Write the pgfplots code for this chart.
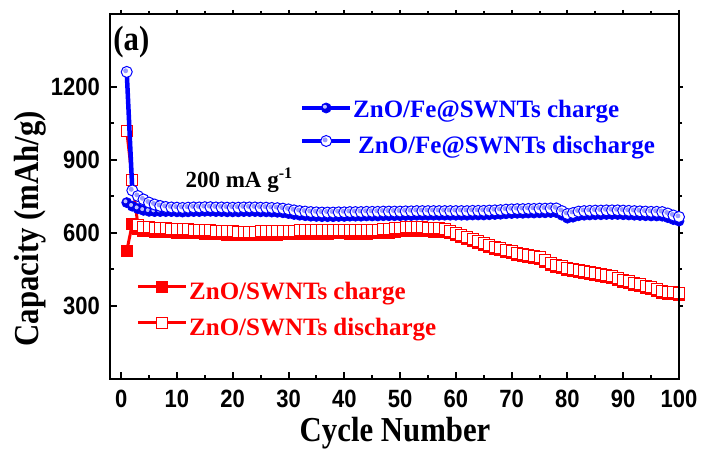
\documentclass[border=0pt]{standalone}
\usepackage{fontspec}
\setmainfont{Liberation Serif}
\newfontfamily\tickfont{Liberation Sans}[FakeStretch=0.88]
\newfontfamily\labfont{Liberation Serif}[FakeStretch=0.88]
\usepackage{pgfplots}
\pgfplotsset{compat=1.18}
\usepackage{pgfplotstable}

\pgfdeclareplotmark{circdot}{%
  \pgfpathcircle{\pgfpointorigin}{\pgfplotmarksize}%
  \pgfsetfillcolor{white}%
  \pgfusepathqfillstroke
  \pgfpathcircle{\pgfpoint{-0.2\pgfplotmarksize}{0.2\pgfplotmarksize}}{0.45\pgfplotmarksize}%
  \pgfsetfillcolor{blue!40}%
  \pgfusepathqfill
}
\pgfdeclareplotmark{blueball}{%
  \pgfpathcircle{\pgfpointorigin}{\pgfplotmarksize}%
  \pgfsetfillcolor{blue!90!black}%
  \pgfusepathqfillstroke
  \pgfpathcircle{\pgfpoint{-0.25\pgfplotmarksize}{0.25\pgfplotmarksize}}{0.4\pgfplotmarksize}%
  \pgfsetfillcolor{blue!25!white}%
  \pgfusepathqfill
}

\pgfplotstableread{
cyc rc rd bc bd
1 526 1020 725 1262
2 637 818 710 775
3 615 632 700 752
4 610 626 693 738
5 608 624 689 725
6 606 622 688 717
7 605 620 688 711
8 604 619 688 707
9 603 618 688 705
10 602 617 687 704
11 601 616 686 703
12 600 615 687 704
13 599 614 688 705
14 598 613 688 705
15 597 612 689 706
16 596 611 689 706
17 595 610 688 705
18 594 609 688 705
19 593 608 687 704
20 592 607 687 704
21 591 606 687 704
22 591 606 688 705
23 591 606 688 705
24 591 606 688 705
25 592 607 687 704
26 592 607 687 704
27 593 608 686 703
28 593 608 685 702
29 594 609 683 700
30 595 610 680 697
31 595 610 676 693
32 596 611 673 690
33 596 611 671 688
34 597 612 669 686
35 597 612 668 685
36 597 612 667 684
37 597 612 667 684
38 598 613 667 684
39 598 613 668 685
40 598 613 668 685
41 597 612 669 686
42 597 612 669 686
43 597 612 669 686
44 597 612 670 687
45 598 613 670 687
46 599 614 670 687
47 600 615 671 688
48 602 617 671 688
49 604 619 671 688
50 607 622 671 688
51 609 624 672 689
52 610 625 672 689
53 609 624 673 690
54 608 623 673 690
55 607 622 673 690
56 606 621 673 690
57 605 620 673 690
58 603 617 673 690
59 598 610 673 690
60 590 600 673 690
61 583 592 673 690
62 574 582 673 690
63 566 574 674 691
64 558 566 674 691
65 550 558 674 691
66 542 550 675 692
67 535 543 676 693
68 529 537 677 694
69 522 530 679 696
70 516 524 680 697
71 511 519 681 698
72 506 514 681 698
73 502 510 682 699
74 497 505 682 699
75 492 500 683 700
76 482 490 683 700
77 470 478 684 701
78 462 470 684 701
79 455 463 673 690
80 449 457 661 678
81 444 452 665 682
82 439 447 671 688
83 435 443 673 690
84 431 439 674 691
85 427 435 675 692
86 423 431 675 692
87 419 427 676 693
88 414 422 676 693
89 407 415 676 693
90 400 408 675 692
91 394 402 674 691
92 388 396 673 690
93 382 390 672 689
94 376 384 671 688
95 369 377 670 687
96 362 370 670 687
97 355 363 669 686
98 350 358 663 680
99 348 356 655 672
100 347 355 649 666
}\data

\pgfplotsset{
  common/.style={
    scale only axis, width=569pt, height=365pt,
    at={(110pt,73pt)}, anchor=south west,
    xmin=-2, xmax=100, ymin=0, ymax=1500,
    xtick={0,10,...,100}, ytick={300,600,900,1200},
    minor x tick num=1, minor y tick num=1,
    axis line style={line width=2.4pt},
    major tick length=7pt, minor tick length=4pt,
    every tick/.style={black, line width=2pt},
    clip=false,
    legend cell align=left,
    legend image code/.code={%
      \pgfpathrectangle{\pgfpoint{0pt}{0pt}}{\pgfpoint{48pt}{18pt}}\pgfusepath{use as bounding box}%
      \begin{pgfinterruptboundingbox}%
      \draw[mark repeat=2,mark phase=2,#1] plot coordinates {(0pt,7pt) (24pt,7pt) (48pt,7pt)};%
      \end{pgfinterruptboundingbox}},
  }
}

\begin{document}
\begin{tikzpicture}
% red series (drawn first)
\begin{axis}[common,
  xtick pos=right, ytick pos=right, tick align=outside,
  xticklabels={}, yticklabels={},
  major tick length=4pt, minor tick length=3pt,
  legend style={draw=none, fill=none, inner sep=0pt, row sep=6pt, column sep=3pt,
    at={(0.0492,0.1918)}, anchor=west,
    nodes={inner sep=0pt, text height=18pt, text depth=6pt, text=red},
    font=\bfseries\fontsize{25}{30}\selectfont},
]
\addplot[red, line width=3pt, mark=square*, mark size=5.5pt,
  mark options={fill=red, draw=red, line width=1pt}]
  table[x=cyc, y=rc] {\data};
\addlegendentry{ZnO/SWNTs charge}
\addplot[red, line width=3pt, mark=square*, mark size=5.5pt,
  mark options={fill=white, draw=red, line width=1pt}]
  table[x=cyc, y=rd] {\data};
\addlegendentry{ZnO/SWNTs discharge}
\end{axis}
% blue series and visible axis
\begin{axis}[common,
  xtick pos=left, ytick pos=left, tick align=inside,
  /pgf/number format/assume math mode=true,
  /pgf/number format/1000 sep={},
  ticklabel style={font=\tickfont\bfseries\fontsize{25}{30}\selectfont, inner sep=0pt},
  xticklabel shift=11pt, yticklabel shift=10pt,
  xlabel={Cycle Number}, ylabel={Capacity (mAh/g)},
  every axis x label/.style={at={(axis description cs:0.501,-0.1726)}, anchor=base,
    font=\labfont\bfseries\fontsize{35}{40}\selectfont},
  every axis y label/.style={at={(axis description cs:-0.1248,0.412)}, rotate=90, anchor=base,
    font=\labfont\bfseries\fontsize{35}{40}\selectfont},
  legend style={draw=none, fill=none, inner sep=0pt, row sep=7pt, column sep=3pt,
    at={(0.3374,0.6863)}, anchor=west,
    nodes={inner sep=0pt, text height=18pt, text depth=6pt, text=blue},
    font=\bfseries\fontsize{25}{30}\selectfont},
]
\addplot[blue, line width=4.5pt, mark=blueball, mark size=5pt,
  mark options={draw=blue, line width=0.8pt},
  legend image post style={yshift=-4pt}]
  table[x=cyc, y=bc] {\data};
\addlegendentry{ZnO/Fe@SWNTs charge}
\addplot[blue, line width=4.5pt, mark=circdot, mark size=5.5pt,
  mark options={draw=blue, line width=1pt}]
  table[x=cyc, y=bd] {\data};
\addlegendentry{\hspace{5pt}ZnO/Fe@SWNTs discharge}
\node[anchor=base west, inner sep=0pt, font=\labfont\bfseries\fontsize{35}{40}\selectfont]
  at (axis cs:-1.43,1352) {(a)};
\node[anchor=base west, inner sep=0pt, font=\bfseries\fontsize{23}{28}\selectfont]
  at (axis cs:11.5,785) {200 mA g\textsuperscript{-1}};
\end{axis}
\pgfresetboundingbox
\path[use as bounding box] (0,0) rectangle (702pt,452pt);
\end{tikzpicture}
\end{document}
